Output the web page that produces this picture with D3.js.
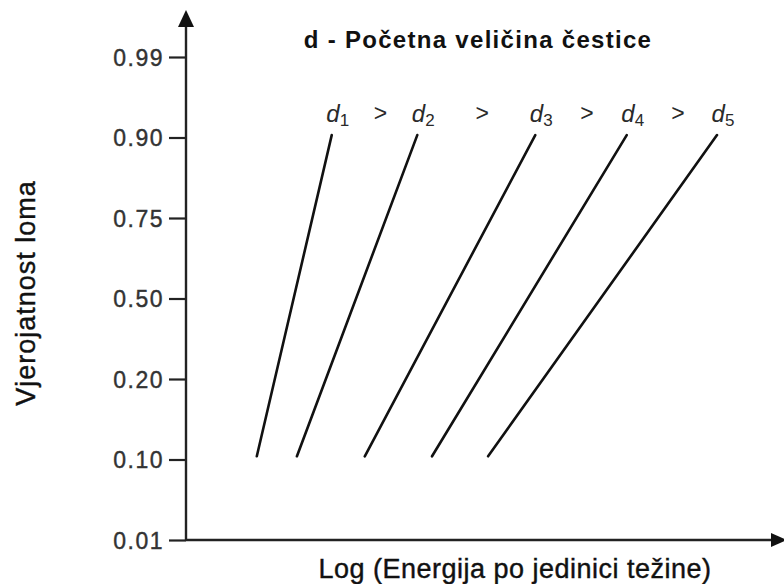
<!DOCTYPE html>
<html>
<head>
<meta charset="utf-8">
<script src="https://cdn.jsdelivr.net/npm/d3@7"></script>
<style>
  body { margin: 0; background: #fff; }
  svg { display: block; font-family: "Liberation Sans", Arial, sans-serif; }
</style>
</head>
<body>
<div id="vis"></div>
<script>
// tick labels of the probability axis (drawn evenly spaced)
const probLabels = ["0.01", "0.10", "0.20", "0.50", "0.75", "0.90", "0.99"];

// particle size curves d1..d5
const sizeIds = ["1", "2", "3", "4", "5"];
// log energy (arbitrary units) at lower and upper end of each line
const energyLow = [1.20, 1.88, 3.03, 4.17, 5.12];
const energyHigh = [2.47, 3.92, 5.92, 7.47, 9.00];
// probability rank (position on the probability axis) of line ends
const rankLow = [1.04, 1.04, 1.04, 1.04, 1.04];
const rankHigh = [5.03, 5.03, 5.03, 5.03, 5.03];

const width = 784;
const height = 584;

const svg = d3.select("#vis")
  .append("svg")
  .attr("width", width)
  .attr("height", height);

// scales
const x = d3.scaleLinear().domain([0, 10]).range([186, 776]);
const y = d3.scaleLinear().domain([0, probLabels.length - 1]).range([540, 57]);

const ink = "#222";

// y axis (ticks only, the line is drawn separately with an arrow)
const yAxis = svg.append("g")
  .attr("transform", `translate(${x(0)},0)`)
  .call(d3.axisLeft(y)
    .tickValues(d3.range(probLabels.length))
    .tickFormat(i => probLabels[i])
    .tickSize(17)
    .tickPadding(5));
yAxis.select(".domain").remove();
yAxis.selectAll(".tick line").attr("stroke", ink).attr("stroke-width", 2.2);
yAxis.selectAll(".tick text")
  .attr("fill", "#333")
  .attr("stroke", "#333")
  .attr("stroke-width", 0.4)
  .style("font-size", "23px")
  .style("letter-spacing", "1.5px")
  .attr("dy", "0.36em");

// axis lines with arrows
svg.append("line")
  .attr("x1", x(0)).attr("x2", x(0))
  .attr("y1", y(0)).attr("y2", 24)
  .attr("stroke", ink).attr("stroke-width", 2.4);
svg.append("path")
  .attr("d", `M${x(0)},10 L${x(0) - 8},27 L${x(0) + 8},27 Z`)
  .attr("fill", "#111");

svg.append("line")
  .attr("x1", x(0)).attr("x2", 774)
  .attr("y1", y(0)).attr("y2", y(0))
  .attr("stroke", ink).attr("stroke-width", 2.4);
svg.append("path")
  .attr("d", `M787,${y(0)} L771,${y(0) - 7} L771,${y(0) + 7} Z`)
  .attr("fill", "#111");

// the lines for each particle size
const lines = sizeIds.map((id, i) => ({
  id: id,
  x1: energyLow[i], y1: rankLow[i],
  x2: energyHigh[i], y2: rankHigh[i]
}));

svg.selectAll(".curve")
  .data(lines)
  .enter()
  .append("line")
  .attr("class", "curve")
  .attr("x1", d => x(d.x1))
  .attr("y1", d => y(d.y1))
  .attr("x2", d => x(d.x2))
  .attr("y2", d => y(d.y2))
  .attr("stroke", "#111")
  .attr("stroke-width", 2.6)
  .attr("stroke-linecap", "round");

// d labels above the lines
const labelY = 122;
const labelX = d => x(d.x2) + 6;

const dLabels = svg.selectAll(".dlabel")
  .data(lines)
  .enter()
  .append("text")
  .attr("class", "dlabel")
  .attr("x", labelX)
  .attr("y", labelY)
  .attr("text-anchor", "middle")
  .attr("fill", "#2a2a2a");
dLabels.append("tspan")
  .style("font-size", "24px")
  .style("font-style", "italic")
  .text("d");
dLabels.append("tspan")
  .style("font-size", "17px")
  .attr("dy", 4)
  .text(d => d.id);

// ">" between labels
svg.selectAll(".gt")
  .data(d3.pairs(lines))
  .enter()
  .append("text")
  .attr("class", "gt")
  .attr("x", p => (labelX(p[0]) + labelX(p[1])) / 2)
  .attr("y", labelY - 1)
  .attr("text-anchor", "middle")
  .attr("fill", "#2a2a2a")
  .style("font-size", "23px")
  .text(">");

// title
svg.append("text")
  .attr("x", 478)
  .attr("y", 48)
  .attr("text-anchor", "middle")
  .attr("fill", "#111")
  .style("font-size", "24px")
  .style("font-weight", "bold")
  .style("letter-spacing", "1.3px")
  .text("d - Početna veličina čestice");

// axis titles
svg.append("text")
  .attr("x", 515)
  .attr("y", 578)
  .attr("text-anchor", "middle")
  .attr("fill", "#111")
  .attr("stroke", "#111")
  .attr("stroke-width", 0.4)
  .style("font-size", "27px")
  .style("letter-spacing", "0.5px")
  .text("Log (Energija po jedinici težine)");

svg.append("text")
  .attr("transform", "translate(35,293) rotate(-90)")
  .attr("text-anchor", "middle")
  .attr("fill", "#111")
  .attr("stroke", "#111")
  .attr("stroke-width", 0.4)
  .style("font-size", "27px")
  .style("letter-spacing", "1px")
  .text("Vjerojatnost loma");
</script>
</body>
</html>
